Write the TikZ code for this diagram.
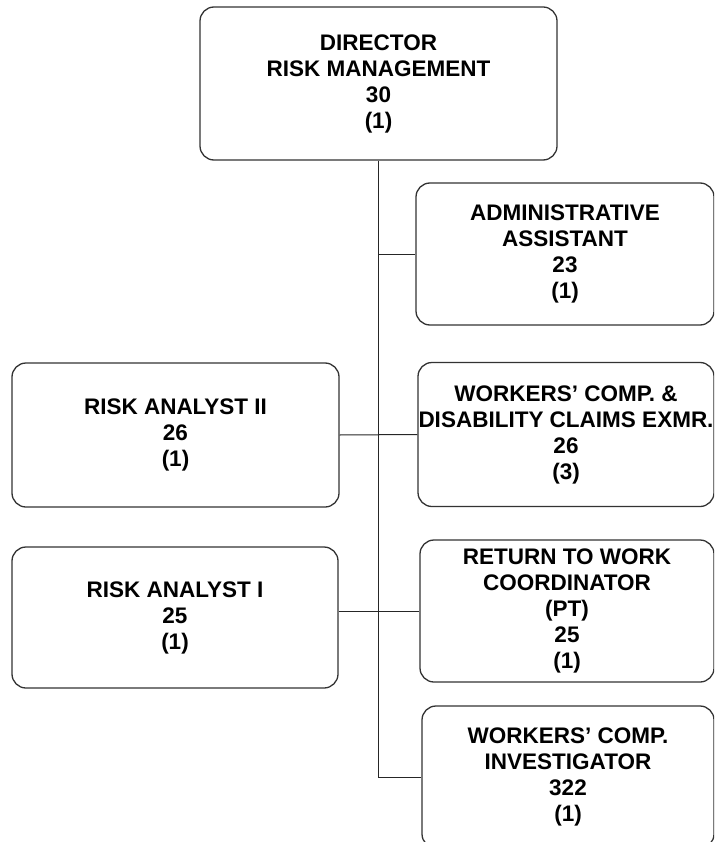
\documentclass[tikz,border=0pt]{standalone}
\usepackage{fontspec}
\setmainfont{Liberation Sans}
\begin{document}
\begin{tikzpicture}[x=1pt,y=-1pt,
    post/.style={draw=black!80,line width=1.3pt,rounded corners=14pt,align=center,
      font=\fontsize{22.5}{26}\selectfont\bfseries,inner sep=0pt,minimum height=143pt},
    link/.style={draw=black!85,line width=1pt}]
  \clip (0,0) rectangle (714,842);
  % head of the unit
  \node [post,minimum width=357pt,minimum height=153pt] (dir) at (378.5,83.5)
    {DIRECTOR\\RISK MANAGEMENT\\30\\(1)};
  % staff on the right of the line
  \node [post,minimum width=298pt,minimum height=142pt] (admin) at (565,254)
    {ADMINISTRATIVE\\ASSISTANT\\23\\(1)};
  \node [post,minimum width=296pt,minimum height=144pt] (wcd) at (566,434.5)
    {WORKERS' COMP. \&\\DISABILITY CLAIMS EXMR.\\26\\(3)};
  \node [post,minimum width=294pt,minimum height=142pt] (rtw) at (567,611)
    {RETURN TO WORK\\COORDINATOR\\(PT)\\25\\(1)};
  \node [post,minimum width=292pt,minimum height=142pt] (wci) at (568,777)
    {WORKERS' COMP.\\INVESTIGATOR\\322\\(1)};
  % analysts on the left
  \node [post,minimum width=327pt,minimum height=144pt] (ra2) at (175.5,435)
    {RISK ANALYST II\\26\\(1)};
  \node [post,minimum width=326pt,minimum height=141pt] (ra1) at (175,617.5)
    {RISK ANALYST I\\25\\(1)};
  % reporting lines
  \draw [link] (dir.south) -- (dir.south |- wci.west) -- (wci.west);
  \draw [link] (admin.west -| dir.south) -- (admin.west);
  \draw [link] (ra2.east) -- (wcd.west);
  \draw [link] (ra1.east |- rtw.west) -- (rtw.west);
\end{tikzpicture}
\end{document}
